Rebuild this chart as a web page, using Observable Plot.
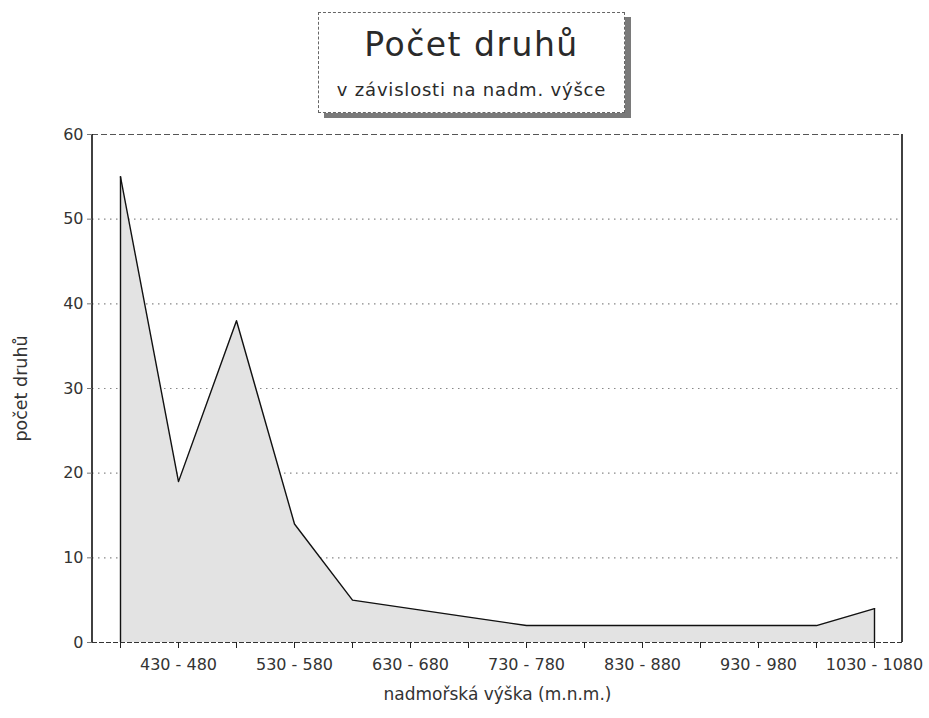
<!DOCTYPE html>
<html><head><meta charset="utf-8">
<script src="https://cdn.jsdelivr.net/npm/d3@7"></script>
<script src="https://cdn.jsdelivr.net/npm/@observablehq/plot@0.6"></script>
<style>
body{margin:0;background:#fff;}
#wrap{position:relative;width:929px;height:718px;overflow:hidden;}
#title{position:absolute;left:318px;top:12px;width:305px;height:99px;border:1px dashed #666;background:#fff;box-shadow:6px 5px 0 #7a7a7a;font-family:"DejaVu Sans",sans-serif;color:#2a2a2a;}
#title .t1{position:absolute;left:0;right:0;top:15px;text-align:center;font-size:33px;line-height:1;letter-spacing:1.5px;}
#title .t2{position:absolute;left:0;right:0;top:68px;text-align:center;font-size:18px;line-height:1;letter-spacing:0.8px;}
</style></head><body>
<div id="wrap"><div id="chart"></div>
<div id="title"><div class="t1">Počet druhů</div><div class="t2">v závislosti na nadm. výšce</div></div></div>
<script>
const categories = ["380 - 430","430 - 480","480 - 530","530 - 580","580 - 630","630 - 680","680 - 730","730 - 780","780 - 830","830 - 880","880 - 930","930 - 980","980 - 1030","1030 - 1080"];
const species = [55, 19, 38, 14, 5, 4, 3, 2, 2, 2, 2, 2, 2, 4];
const yTicks = [0, 10, 20, 30, 40, 50, 60];
const gridTicks = [10, 20, 30, 40, 50];
const xLabel = "nadmořská výška (m.n.m.)";
const yLabel = "počet druhů";

const data = categories.map((c, i) => ({cat: c, v: species[i]}));
const ends = [data[0], data[data.length - 1]];

const sideLines = (index, scales, values, dims) => {
  const g = d3.create("svg:g").attr("stroke", "#111").attr("stroke-width", 1.6);
  const y0 = dims.marginTop, y1 = dims.height - dims.marginBottom;
  for (const x of [dims.marginLeft, dims.width - dims.marginRight]) {
    g.append("line").attr("x1", x).attr("x2", x).attr("y1", y0).attr("y2", y1);
  }
  return g.node();
};

const chart = Plot.plot({
  width: 929,
  height: 718,
  marginTop: 134,
  marginBottom: 76,
  marginLeft: 92,
  marginRight: 27,
  style: {fontFamily: "DejaVu Sans, sans-serif", fontSize: "15px", color: "#333", background: "#fff"},
  x: {type: "point", domain: categories, padding: 0.47, label: null},
  y: {domain: [0, 60], label: null},
  marks: [
    Plot.ruleY(gridTicks, {stroke: "#888", strokeWidth: 1.2, strokeDasharray: "1.5,4.5"}),
    Plot.areaY(data, {x: "cat", y: "v", fill: "#e3e3e3"}),
    Plot.lineY(data, {x: "cat", y: "v", stroke: "#111", strokeWidth: 1.4}),
    Plot.ruleX(ends, {x: "cat", y1: 0, y2: "v", stroke: "#111", strokeWidth: 1.4}),
    Plot.ruleY([60], {stroke: "#555", strokeWidth: 1.2, strokeDasharray: "6,3"}),
    Plot.ruleY([0], {stroke: "#333", strokeWidth: 1.2, strokeDasharray: "5,2"}),
    sideLines,
    Plot.axisY(yTicks, {tickSize: 5, tickPadding: 4, stroke: "#777", fontSize: 16, letterSpacing: 1, label: null}),
    Plot.text([yLabel], {frameAnchor: "left", textAnchor: "middle", dx: -71, rotate: -90, fontSize: 17.5, letterSpacing: 2.5, fill: "#333"}),
    Plot.axisX({tickSize: 6, tickPadding: 10, stroke: "#222", fontSize: 16, letterSpacing: 0.8,
      tickFormat: (d, i) => (i % 2 === 1 ? d : ""), label: null}),
    Plot.text([xLabel], {frameAnchor: "bottom", textAnchor: "middle", dy: 57, fontSize: 17, letterSpacing: 1, fill: "#333"})
  ]
});
document.getElementById("chart").appendChild(chart);
</script>
</body></html>
